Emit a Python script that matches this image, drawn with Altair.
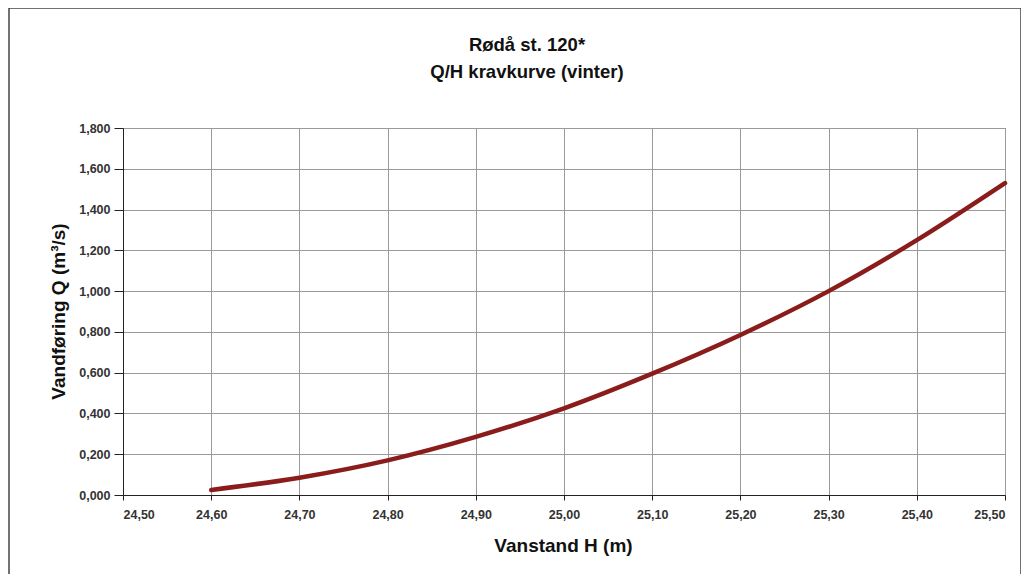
import altair as alt
import pandas as pd

# Values
vanstand_h = [24.60, 24.70, 24.80, 24.90, 25.00, 25.10, 25.20, 25.30, 25.40, 25.50]
vandforing_q = [0.025, 0.085, 0.170, 0.285, 0.425, 0.595, 0.785, 1.000, 1.250, 1.530]

x_ticks = [24.5, 24.6, 24.7, 24.8, 24.9, 25.0, 25.1, 25.2, 25.3, 25.4, 25.5]
y_ticks = [0.0, 0.2, 0.4, 0.6, 0.8, 1.0, 1.2, 1.4, 1.6, 1.8]

title_lines = ["Rødå st. 120*", "Q/H kravkurve (vinter)"]
x_title = "Vanstand H (m)"
y_title = "Vandføring Q (m³/s)"

df = pd.DataFrame({"H": vanstand_h, "Q": vandforing_q})

FONT = "Liberation Sans"

line = alt.Chart(df).mark_line(
    color="#8B1C1C", strokeWidth=4.5, interpolate="monotone", strokeCap="round"
).encode(
    x=alt.X(
        "H:Q",
        scale=alt.Scale(domain=[24.5, 25.5], nice=False, zero=False),
        axis=alt.Axis(
            values=x_ticks,
            labelExpr="replace(format(datum.value, '.2f'), '.', ',')",
            title=x_title,
            titleX=440,
            titleY=50,
            titleBaseline="middle",
            titleAnchor="middle",
            titleFontSize=19,
            titleFont=FONT,
            titleFontWeight="bold",
            titleColor="#111111",
            tickSize=5,
            labelPadding=8,
        ),
    ),
    y=alt.Y(
        "Q:Q",
        scale=alt.Scale(domain=[0, 1.8], nice=False),
        axis=alt.Axis(
            values=y_ticks,
            labelExpr="replace(format(datum.value, '.3f'), '.', ',')",
            title=y_title,
            titleX=-65,
            titleY=183,
            titleBaseline="middle",
            titleAnchor="middle",
            titleFontSize=19,
            titleFont=FONT,
            titleFontWeight="bold",
            titleColor="#111111",
            tickSize=9,
            labelPadding=4,
        ),
    ),
)

frame = alt.Chart(pd.DataFrame({"k": [0]})).mark_rect(
    fill=None, stroke="#444444", strokeWidth=1.5
).encode(
    x=alt.value(-114), x2=alt.value(898), y=alt.value(-120), y2=alt.value(480)
)

title_1 = alt.Chart(pd.DataFrame({"t": [title_lines[0]]})).mark_text(
    font=FONT, fontSize=18.5, fontWeight="bold", color="#111111",
    align="center", baseline="middle"
).encode(text="t:N", x=alt.value(404), y=alt.value(-83))
title_2 = alt.Chart(pd.DataFrame({"t": [title_lines[1]]})).mark_text(
    font=FONT, fontSize=18.5, fontWeight="bold", color="#111111",
    align="center", baseline="middle"
).encode(text="t:N", x=alt.value(404), y=alt.value(-56))

chart = alt.layer(frame, line, title_1, title_2).properties(
    width=882,
    height=367,
    background="white",
    autosize=alt.AutoSizeParams(type="none"),
    padding={"left": 115, "top": 120, "right": 16, "bottom": 79},
).configure_view(
    stroke="#555555", strokeWidth=1
).configure_axis(
    labelFont=FONT,
    labelFontSize=12.5,
    labelFontWeight="bold",
    labelColor="#333333",
    gridColor="#9a9a9a",
    gridWidth=1,
    gridOpacity=1,
    domainColor="#222222",
    tickColor="#222222",
    domainWidth=1,
)

chart.save("out.html", embed_options={"renderer": "svg", "actions": False})
